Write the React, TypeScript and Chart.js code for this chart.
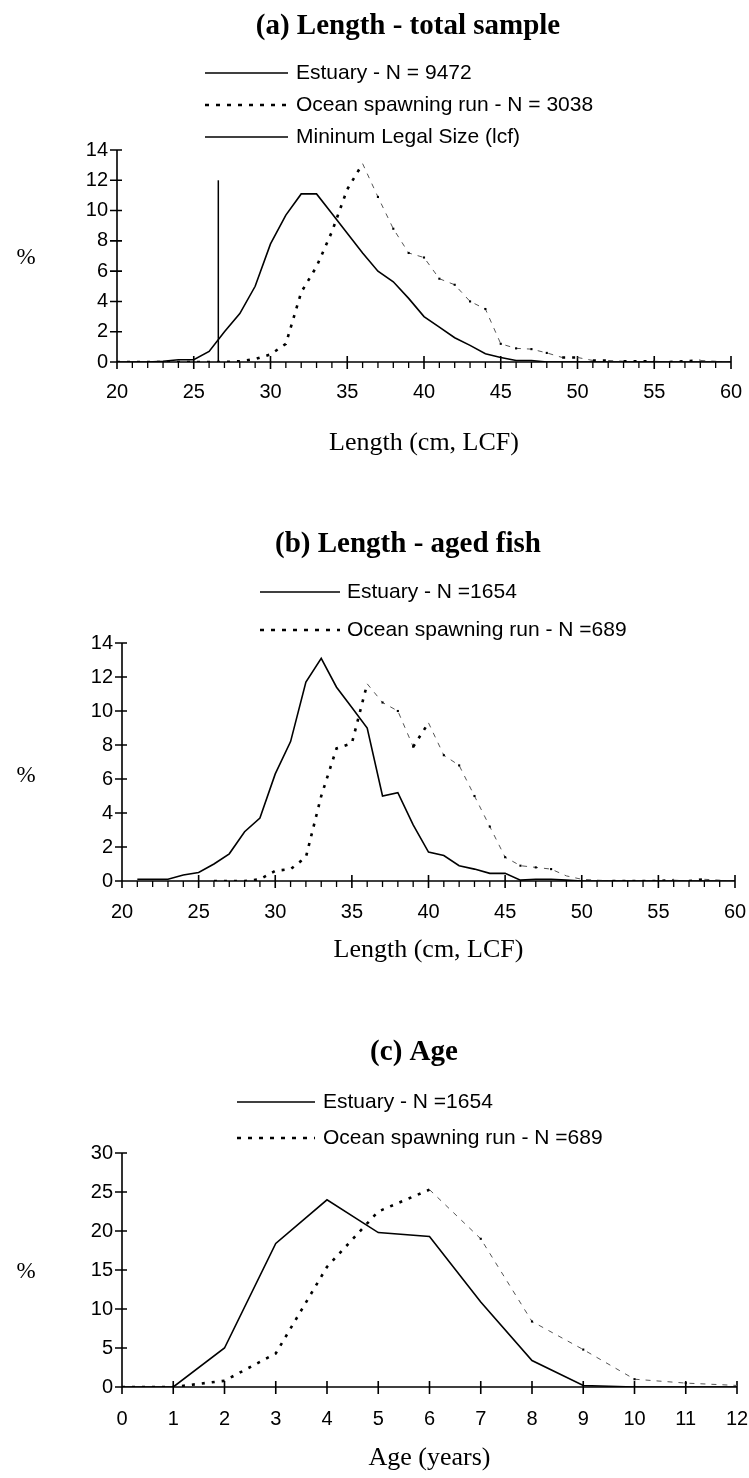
import { useEffect, useRef } from 'react';
import { Chart, registerables } from 'chart.js';

Chart.register(...registerables);

const PAGE_W = 749;
const PAGE_H = 1478;
const SANS = '"Liberation Sans", Arial, sans-serif';
const SERIF = '"Liberation Serif", "Times New Roman", serif';

// ---------- data ----------
const lengthCm = [20, 21, 22, 23, 24, 25, 26, 27, 28, 29, 30, 31, 32, 33, 34, 35, 36, 37, 38, 39, 40, 41, 42, 43, 44, 45, 46, 47, 48, 49, 50, 51, 52, 53, 54, 55, 56, 57, 58, 59, 60];

// (a) Length - total sample (% per 1 cm class)
const estuaryTotalPct = [0, 0, 0, 0.05, 0.15, 0.15, 0.7, 2.0, 3.2, 5.0, 7.8, 9.7, 11.1, 11.1, 9.8, 8.5, 7.2, 6.0, 5.3, 4.2, 3.0, 2.3, 1.6, 1.1, 0.55, 0.3, 0.1, 0.1, 0, 0, 0, 0, 0, 0, 0, 0, 0, 0, 0, 0, 0];
const oceanTotalPct = [0, 0, 0, 0, 0, 0, 0, 0, 0.05, 0.2, 0.5, 1.2, 4.6, 6.3, 8.6, 11.4, 13.1, 10.9, 8.8, 7.2, 6.9, 5.5, 5.1, 4.0, 3.5, 1.2, 0.9, 0.85, 0.6, 0.3, 0.3, 0.1, 0.1, 0.05, 0.05, 0.05, 0, 0.05, 0.1, 0.05, 0];
const legalSizeCm = [26.6, 26.6];
const legalSizeLinePct = [0, 12];

// (b) Length - aged fish
const estuaryAgedPct = [null, 0.1, 0.1, 0.1, 0.35, 0.5, 1.0, 1.6, 2.9, 3.7, 6.3, 8.2, 11.7, 13.1, 11.4, 10.2, 9.0, 5.0, 5.2, 3.3, 1.7, 1.5, 0.9, 0.7, 0.45, 0.45, 0.05, 0.1, 0.1, 0.05, 0, 0, 0, 0, 0, 0, 0, 0, 0, 0, 0];
const oceanAgedPct = [null, null, null, null, null, null, 0, 0, 0, 0.1, 0.6, 0.7, 1.4, 5.0, 7.8, 8.1, 11.6, 10.5, 10.0, 7.9, 9.3, 7.4, 6.8, 5.0, 3.2, 1.4, 0.9, 0.8, 0.7, 0.3, 0.1, 0.05, 0, 0, 0, 0, 0.05, 0, 0.1, 0.05, 0];

// (c) Age
const ageYears = [0, 1, 2, 3, 4, 5, 6, 7, 8, 9, 10, 11, 12];
const estuaryAgePct = [0, 0, 5.0, 18.4, 24.0, 19.8, 19.3, 10.9, 3.4, 0.2, 0, 0, 0];
const oceanAgePct = [0, 0, 0.8, 4.3, 15.4, 22.5, 25.3, 19.0, 8.4, 4.8, 1.0, 0.5, 0.2];

// ticks
const lengthMajorTicks = [20, 25, 30, 35, 40, 45, 50, 55, 60];
const lengthMinorTicks = [21, 22, 23, 24, 26, 27, 28, 29, 31, 32, 33, 34, 36, 37, 38, 39, 41, 42, 43, 44, 46, 47, 48, 49, 51, 52, 53, 54, 56, 57, 58, 59];
const lengthPctTicks = [0, 2, 4, 6, 8, 10, 12, 14];
const ageMajorTicks = [0, 1, 2, 3, 4, 5, 6, 7, 8, 9, 10, 11, 12];
const agePctTicks = [0, 5, 10, 15, 20, 25, 30];

// labels
const titleA = '(a) Length - total sample';
const titleB = '(b) Length - aged fish';
const titleC = '(c) Age';
const legendA = ['Estuary - N = 9472', 'Ocean spawning run - N = 3038', 'Mininum Legal Size (lcf)'];
const legendBC = ['Estuary - N =1654', 'Ocean spawning run - N =689'];
const xTitleLength = 'Length (cm, LCF)';
const xTitleAge = 'Age (years)';
const yTitle = '%';

// ---------- helpers ----------
type Pt = { x: number; y: number | null };
const zip = (xs: number[], ys: (number | null)[]): Pt[] => xs.map((x, i) => ({ x, y: ys[i] }));

const solidStyle = {
  borderColor: '#000',
  borderWidth: 1.6,
  pointRadius: 0,
  tension: 0,
  fill: false,
};

function oceanStyle(values: (number | null)[]) {
  return {
    borderColor: '#000',
    borderWidth: 2.6,
    borderDash: [3, 7],
    borderCapStyle: 'butt',
    tension: 0,
    fill: false,
    pointStyle: 'rect',
    pointBackgroundColor: '#000',
    pointBorderWidth: 0,
    pointRadius: (ctx: any) => {
      const i = ctx.dataIndex;
      const v = values[i];
      const p = values[i - 1];
      return v != null && p != null && v < p && v > 0.4 ? 1.5 : 0;
    },
    segment: {
      borderWidth: (ctx: any) => (ctx.p1.parsed.y < ctx.p0.parsed.y ? 1 : undefined),
      borderDash: (ctx: any) => (ctx.p1.parsed.y < ctx.p0.parsed.y ? [5, 6] : undefined),
      borderColor: (ctx: any) => (ctx.p1.parsed.y < ctx.p0.parsed.y ? '#555' : undefined),
    },
  };
}

type PanelSpec = {
  canvasTop: number;
  canvasHeight: number;
  area: { left: number; right: number; top: number; bottom: number };
  xMin: number;
  xMax: number;
  xStep: number;
  xMajor: number[];
  xMinor: number[];
  yMax: number;
  yStep: number;
  yTicks: number[];
  xLabelPad: number;
  title: string;
  titleX: number;
  titleY: number;
  legend: { label: string; dotted: boolean }[];
  legendRows: number[];
  legendLine: [number, number];
  legendTextX: number;
  xTitle: string;
  xTitleY: number;
  pctY: number;
  datasets: any[];
};

function makePlugin(spec: PanelSpec) {
  const off = spec.canvasTop;
  return {
    id: 'panelDecor',
    beforeDatasetsDraw(chart: any) {
      const ctx = chart.ctx;
      const xs = chart.scales.x;
      const ys = chart.scales.y;
      const { left, right, top, bottom } = chart.chartArea;
      ctx.save();
      ctx.strokeStyle = '#000';
      ctx.lineWidth = 1.6;
      ctx.setLineDash([]);
      ctx.beginPath();
      ctx.moveTo(left, top);
      ctx.lineTo(left, bottom);
      ctx.moveTo(left, bottom);
      ctx.lineTo(right, bottom);
      for (const v of spec.yTicks) {
        const y = ys.getPixelForValue(v);
        ctx.moveTo(left - 7, y);
        ctx.lineTo(left + 5, y);
      }
      for (const v of spec.xMajor) {
        const x = xs.getPixelForValue(v);
        ctx.moveTo(x, bottom - 6);
        ctx.lineTo(x, bottom + 7);
      }
      ctx.stroke();
      ctx.lineWidth = 1.3;
      ctx.beginPath();
      for (const v of spec.xMinor) {
        const x = xs.getPixelForValue(v);
        ctx.moveTo(x, bottom);
        ctx.lineTo(x, bottom + 6);
      }
      ctx.stroke();
      ctx.restore();
    },
    afterDraw(chart: any) {
      const ctx = chart.ctx;
      const { left, right } = chart.chartArea;
      ctx.save();
      ctx.fillStyle = '#000';
      // title
      ctx.font = `bold 29px ${SERIF}`;
      ctx.textAlign = 'center';
      ctx.textBaseline = 'middle';
      ctx.fillText(spec.title, spec.titleX, spec.titleY - off);
      // legend
      ctx.font = `21px ${SANS}`;
      ctx.textAlign = 'left';
      spec.legend.forEach((item, i) => {
        const y = spec.legendRows[i] - off;
        ctx.save();
        ctx.strokeStyle = '#000';
        if (item.dotted) {
          ctx.lineWidth = 2.6;
          ctx.setLineDash([4, 7]);
        } else {
          ctx.lineWidth = 1.6;
          ctx.setLineDash([]);
        }
        ctx.beginPath();
        ctx.moveTo(spec.legendLine[0], y);
        ctx.lineTo(spec.legendLine[1], y);
        ctx.stroke();
        ctx.restore();
        ctx.fillText(item.label, spec.legendTextX, y);
      });
      // y title
      ctx.font = `23px ${SERIF}`;
      ctx.textAlign = 'center';
      ctx.fillText(yTitle, 26, spec.pctY - off);
      // x title
      ctx.font = `26px ${SERIF}`;
      ctx.fillText(spec.xTitle, (left + right) / 2, spec.xTitleY - off);
      ctx.restore();
    },
  };
}

function buildConfig(spec: PanelSpec): any {
  const a = spec.area;
  const canvasBottom = spec.canvasTop + spec.canvasHeight;
  const tickFont = { family: SANS, size: 20 };
  return {
    type: 'line',
    data: { datasets: spec.datasets },
    options: {
      responsive: false,
      maintainAspectRatio: false,
      animation: false,
      devicePixelRatio: 1,
      events: [],
      layout: {
        padding: { top: a.top - spec.canvasTop, left: 0, right: PAGE_W - a.right, bottom: 0 },
      },
      plugins: {
        legend: { display: false },
        title: { display: false },
        tooltip: { enabled: false },
      },
      scales: {
        x: {
          type: 'linear',
          min: spec.xMin,
          max: spec.xMax,
          grid: { display: false, drawTicks: false },
          border: { display: false },
          ticks: { stepSize: spec.xStep, padding: spec.xLabelPad, color: '#000', font: tickFont, maxRotation: 0, autoSkip: false },
          afterFit: (s: any) => {
            s.height = canvasBottom - a.bottom;
            s.paddingLeft = 0;
            s.paddingRight = 0;
          },
        },
        y: {
          type: 'linear',
          min: 0,
          max: spec.yMax,
          grid: { display: false, drawTicks: false },
          border: { display: false },
          ticks: { stepSize: spec.yStep, padding: 9, color: '#000', font: tickFont },
          afterFit: (s: any) => {
            s.width = a.left;
            s.paddingTop = 0;
            s.paddingBottom = 0;
          },
        },
      },
    },
    plugins: [makePlugin(spec)],
  };
}

// ---------- panels ----------
const panelA: PanelSpec = {
  canvasTop: 0,
  canvasHeight: 470,
  area: { left: 117, right: 731, top: 150, bottom: 362 },
  xMin: 20,
  xMax: 60,
  xStep: 5,
  xMajor: lengthMajorTicks,
  xMinor: lengthMinorTicks,
  yMax: 14,
  yStep: 2,
  yTicks: lengthPctTicks,
  xLabelPad: 18,
  title: titleA,
  titleX: 408,
  titleY: 27,
  legend: [
    { label: legendA[0], dotted: false },
    { label: legendA[1], dotted: true },
    { label: legendA[2], dotted: false },
  ],
  legendRows: [73, 105, 137],
  legendLine: [205, 288],
  legendTextX: 296,
  xTitle: xTitleLength,
  xTitleY: 443,
  pctY: 258,
  datasets: [
    { label: legendA[0], data: zip(lengthCm, estuaryTotalPct), ...solidStyle },
    { label: legendA[1], data: zip(lengthCm, oceanTotalPct), ...oceanStyle(oceanTotalPct) },
    { label: legendA[2], data: zip(legalSizeCm, legalSizeLinePct), ...solidStyle, borderWidth: 1.5 },
  ],
};

const panelB: PanelSpec = {
  canvasTop: 470,
  canvasHeight: 520,
  area: { left: 122, right: 735, top: 643, bottom: 881 },
  xMin: 20,
  xMax: 60,
  xStep: 5,
  xMajor: lengthMajorTicks,
  xMinor: lengthMinorTicks,
  yMax: 14,
  yStep: 2,
  yTicks: lengthPctTicks,
  xLabelPad: 19,
  title: titleB,
  titleX: 408,
  titleY: 545,
  legend: [
    { label: legendBC[0], dotted: false },
    { label: legendBC[1], dotted: true },
  ],
  legendRows: [592, 630],
  legendLine: [260, 340],
  legendTextX: 347,
  xTitle: xTitleLength,
  xTitleY: 950,
  pctY: 776,
  datasets: [
    { label: legendBC[0], data: zip(lengthCm, estuaryAgedPct), ...solidStyle },
    { label: legendBC[1], data: zip(lengthCm, oceanAgedPct), ...oceanStyle(oceanAgedPct) },
  ],
};

const panelC: PanelSpec = {
  canvasTop: 990,
  canvasHeight: 488,
  area: { left: 122, right: 737, top: 1153, bottom: 1387 },
  xMin: 0,
  xMax: 12,
  xStep: 1,
  xMajor: ageMajorTicks,
  xMinor: [],
  yMax: 30,
  yStep: 5,
  yTicks: agePctTicks,
  xLabelPad: 20,
  title: titleC,
  titleX: 414,
  titleY: 1053,
  legend: [
    { label: legendBC[0], dotted: false },
    { label: legendBC[1], dotted: true },
  ],
  legendRows: [1102, 1138],
  legendLine: [237, 315],
  legendTextX: 323,
  xTitle: xTitleAge,
  xTitleY: 1458,
  pctY: 1272,
  datasets: [
    { label: legendBC[0], data: zip(ageYears, estuaryAgePct), ...solidStyle },
    { label: legendBC[1], data: zip(ageYears, oceanAgePct), ...oceanStyle(oceanAgePct) },
  ],
};

function Panel({ spec }: { spec: PanelSpec }) {
  const ref = useRef<HTMLCanvasElement>(null);
  useEffect(() => {
    const chart = new Chart(ref.current as HTMLCanvasElement, buildConfig(spec));
    return () => chart.destroy();
  }, [spec]);
  return (
    <canvas
      ref={ref}
      width={PAGE_W}
      height={spec.canvasHeight}
      style={{ position: 'absolute', left: 0, top: spec.canvasTop, width: PAGE_W, height: spec.canvasHeight, display: 'block' }}
    />
  );
}

export default function App() {
  return (
    <div style={{ position: 'absolute', left: 0, top: 0, width: PAGE_W, height: PAGE_H, overflow: 'hidden', background: '#fff' }}>
      <Panel spec={panelA} />
      <Panel spec={panelB} />
      <Panel spec={panelC} />
    </div>
  );
}
